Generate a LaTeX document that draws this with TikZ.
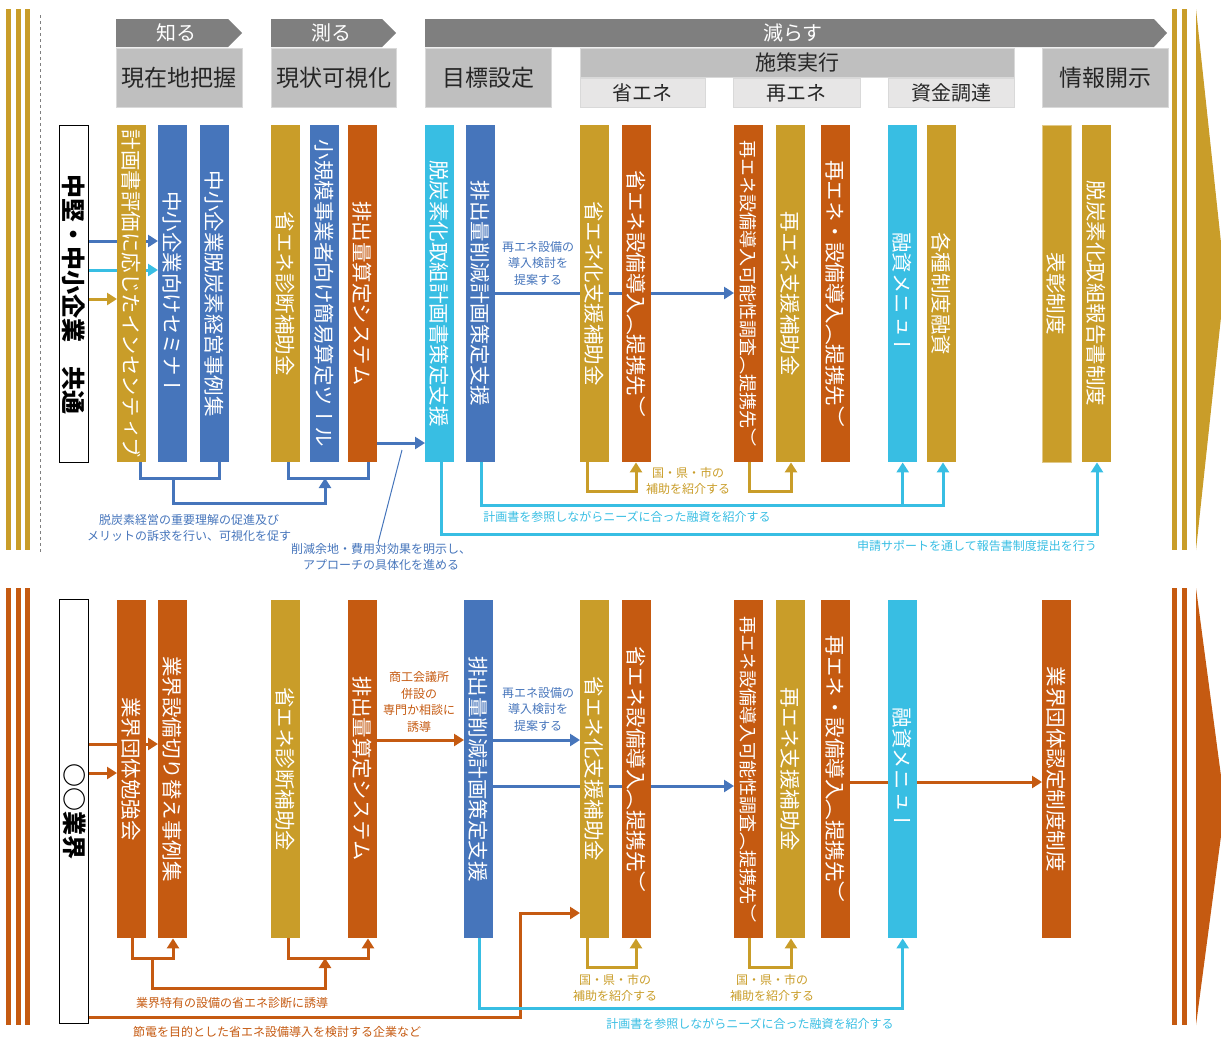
\documentclass[tikz,border=0pt]{standalone}
\usepackage{fontspec}
\setmainfont{Noto Sans CJK JP}
\newfontfamily\tate[Vertical=RotatedGlyphs]{Noto Sans CJK JP}
\usepackage{tikz}
\usetikzlibrary{arrows.meta,backgrounds}
\definecolor{gld}{HTML}{C99D29}
\definecolor{blu}{HTML}{4675BB}
\definecolor{cyn}{HTML}{38BEE3}
\definecolor{org}{HTML}{C55A11}
\definecolor{hdk}{HTML}{7F7F7F}
\definecolor{hmid}{HTML}{BFBFBF}
\definecolor{hlite}{HTML}{E7E6E6}
\definecolor{hline}{HTML}{D9D9D9}
\definecolor{hink}{HTML}{262626}
\tikzset{
  barnode/.style={rectangle, fill=#1, minimum width=29pt, minimum height=337pt,
                  inner sep=0pt, anchor=north west},
  vt/.style={rotate=-90, inner sep=0pt, text=white, font=\tate\fontsize{20.5}{20.5}\selectfont},
  vts/.style={vt, font=\tate\fontsize{18}{18}\selectfont},
  grp/.style={rectangle, draw=black, line width=1.3pt, fill=white, minimum width=29pt,
              inner sep=0pt, anchor=north west},
  grptxt/.style={vt, text=black, font=\tate\fontsize{24}{24}\selectfont\bfseries},
  hd/.style={text=white, inner sep=0pt, font=\fontsize{20}{20}\selectfont},
  hbox/.style={rectangle, fill=hmid, draw=hline, line width=0.8pt, anchor=north west,
               inner sep=0pt, text=hink, font=\fontsize{23}{23}\selectfont},
  subbox/.style={hbox, fill=hlite, minimum height=29pt, font=\fontsize{20}{20}\selectfont},
  ln/.style={line width=3pt, draw=#1},
  fl/.style={ln=#1, -{Triangle[length=10pt,width=12pt]}},
  lbl/.style={font=\fontsize{12}{16.5}\selectfont, align=center, inner sep=0pt, text=#1},
}
\begin{document}
\begin{tikzpicture}[x=1pt, y=-1pt]
  \useasboundingbox (0,0) rectangle (1221,1039);

  % side stripes
  \foreach \sx in {6,16,25,1172,1182} {
    \fill[gld] (\sx,9) rectangle ++(5,541);
    \fill[org] (\sx,588) rectangle ++(5,437);
  }
  \fill[gld] (1196,9) -- (1225,280) -- (1196,550) -- cycle;
  \fill[org] (1196,588) -- (1225,806) -- (1196,1025) -- cycle;
  \draw[hdk, dashed, line width=1pt] (40,15) -- (40,553);

  % phase headers
  \fill[hdk] (116,19) -- (228,19) -- (242,33) -- (228,47) -- (116,47) -- cycle;
  \node[hd] (know) at (176,33) {知る};
  \fill[hdk] (271,19) -- (382,19) -- (396,33) -- (382,47) -- (271,47) -- cycle;
  \node[hd] (meas) at (331,33) {測る};
  \fill[hdk] (425,19) -- (1154,19) -- (1167,33) -- (1154,47) -- (425,47) -- cycle;
  \node[hd] (cut) at (793,33) {減らす};

  \node[hbox, minimum width=126pt, minimum height=59pt] (now) at (116,48) {現在地把握};
  \node[hbox, minimum width=125pt, minimum height=59pt] (vis) at (271,48) {現状可視化};
  \node[hbox, minimum width=126pt, minimum height=59pt] (goal) at (425,48) {目標設定};
  \node[hbox, minimum width=434pt, minimum height=29pt, font=\fontsize{21}{21}\selectfont] (act) at (580,48) {施策実行};
  \node[subbox, minimum width=125pt] (save) at (580,78) {省エネ};
  \node[subbox, minimum width=127pt] (renew) at (733,78) {再エネ};
  \node[subbox, minimum width=126pt] (fund) at (888,78) {資金調達};
  \node[hbox, minimum width=126pt, minimum height=59pt] (disc) at (1042,48) {情報開示};

  % upper row
  \node[grp, minimum height=337pt, label={[grptxt]center:中堅・中小企業　共通}] (g1) at (59,125) {};
  \node[barnode=gld, label={[vt]center:計画書評価に応じたインセンティブ}] (t1) at (117,125) {};
  \node[barnode=blu, label={[vt]center:中小企業向けセミナー}] (t2) at (158,125) {};
  \node[barnode=blu, label={[vt]center:中小企業脱炭素経営事例集}] (t3) at (200,125) {};
  \node[barnode=gld, label={[vt]center:省エネ診断補助金}] (t4) at (271,125) {};
  \node[barnode=blu, label={[vt]center:小規模事業者向け簡易算定ツール}] (t5) at (310,125) {};
  \node[barnode=org, label={[vt]center:排出量算定システム}] (t6) at (348,125) {};
  \node[barnode=cyn, label={[vt]center:脱炭素化取組計画書策定支援}] (t7) at (425,125) {};
  \node[barnode=blu, label={[vt]center:排出量削減計画策定支援}] (t8) at (466,125) {};
  \node[barnode=gld, label={[vt]center:省エネ化支援補助金}] (t9) at (580,125) {};
  \node[barnode=org, label={[vt]center:省エネ設備導入（提携先）}] (t10) at (622,125) {};
  \node[barnode=org, label={[vts]center:再エネ設備導入可能性調査（提携先）}] (t11) at (734,125) {};
  \node[barnode=gld, label={[vt]center:再エネ支援補助金}] (t12) at (776,125) {};
  \node[barnode=org, label={[vt]center:再エネ・設備導入（提携先）}] (t13) at (821,125) {};
  \node[barnode=cyn, label={[vt]center:融資メニュー}] (t14) at (888,125) {};
  \node[barnode=gld, label={[vt]center:各種制度融資}] (t15) at (927,125) {};
  \node[barnode=gld, draw=gld!55!white, label={[vt]center:表彰制度}] (t16) at (1042,125) {};
  \node[barnode=gld, label={[vt]center:脱炭素化取組報告書制度}] (t17) at (1082,125) {};

  \node[lbl=blu] (n1) at (189,528) {脱炭素経営の重要理解の促進及び\\メリットの訴求を行い、可視化を促す};
  \node[lbl=blu] (n2) at (381,557) {削減余地・費用対効果を明示し、\\アプローチの具体化を進める};
  \node[lbl=blu] (n3) at (538,263) {再エネ設備の\\導入検討を\\提案する};
  \node[lbl=gld] (n4) at (688,481) {国・県・市の\\補助を紹介する};
  \node[lbl=cyn] (n5) at (627,517) {計画書を参照しながらニーズに合った融資を紹介する};
  \node[lbl=cyn] (n6) at (977,546) {申請サポートを通して報告書制度提出を行う};

  % lower row
  \node[grp, minimum height=424pt, label={[grptxt]center:○○業界}] (g2) at (59,599) {};
  \node[barnode=org, minimum height=338pt, label={[vt]center:業界団体勉強会}] (b1) at (117,600) {};
  \node[barnode=org, minimum height=338pt, label={[vt]center:業界設備切り替え事例集}] (b2) at (158,600) {};
  \node[barnode=gld, minimum height=338pt, label={[vt]center:省エネ診断補助金}] (b3) at (271,600) {};
  \node[barnode=org, minimum height=338pt, label={[vt]center:排出量算定システム}] (b4) at (348,600) {};
  \node[barnode=blu, minimum height=338pt, label={[vt]center:排出量削減計画策定支援}] (b5) at (464,600) {};
  \node[barnode=gld, minimum height=338pt, label={[vt]center:省エネ化支援補助金}] (b6) at (580,600) {};
  \node[barnode=org, minimum height=338pt, label={[vt]center:省エネ設備導入（提携先）}] (b7) at (622,600) {};
  \node[barnode=org, minimum height=338pt, label={[vts]center:再エネ設備導入可能性調査（提携先）}] (b8) at (734,600) {};
  \node[barnode=gld, minimum height=338pt, label={[vt]center:再エネ支援補助金}] (b9) at (776,600) {};
  \node[barnode=org, minimum height=338pt, label={[vt]center:再エネ・設備導入（提携先）}] (b10) at (821,600) {};
  \node[barnode=cyn, minimum height=338pt, label={[vt]center:融資メニュー}] (b11) at (888,600) {};
  \node[barnode=org, minimum height=338pt, label={[vt]center:業界団体認定制度制度}] (b12) at (1042,600) {};

  \node[lbl=org] (m1) at (232,1003) {業界特有の設備の省エネ診断に誘導};
  \node[lbl=org] (m2) at (277,1032) {節電を目的とした省エネ設備導入を検討する企業など};
  \node[lbl=org] (m3) at (419,702) {商工会議所\\併設の\\専門か相談に\\誘導};
  \node[lbl=blu] (m4) at (538,709) {再エネ設備の\\導入検討を\\提案する};
  \node[lbl=gld] (m5) at (615,988) {国・県・市の\\補助を紹介する};
  \node[lbl=gld] (m6) at (772,988) {国・県・市の\\補助を紹介する};
  \node[lbl=cyn] (m7) at (750,1024) {計画書を参照しながらニーズに合った融資を紹介する};

  \begin{scope}[on background layer]
    % upper connectors
    \draw[fl=blu] (g1.east |- 0,241) -- (t2.west |- 0,241);
    \draw[fl=cyn] (g1.east |- 0,270) -- (t2.west |- 0,270);
    \draw[fl=gld] (g1.east |- 0,299) -- (t1.west |- 0,299);
    \draw[ln=blu] ([xshift=-6pt]t1.south east) -- ++(0,16) -| ([xshift=-10pt]t3.south east);
    \draw[ln=blu] ([xshift=-12pt]t4.south east) -- ++(0,16) -| ([xshift=-9pt]t6.south east);
    \coordinate (k1) at (173,478);
    \coordinate (k2) at (325,478);
    \draw[fl=blu] (k1) -- ++(0,25) -| (k2);
    \draw[fl=blu] (t6.east |- 0,443) -- (t7.west |- 0,443);
    \draw[blu, line width=1pt] (402,450) -- (n2.north -| 378,0);
    \draw[fl=blu] (t8.east |- 0,293) -- (t11.west |- 0,293);
    \draw[fl=gld] ([xshift=7pt]t9.south west) -- ++(0,29) -| ([xshift=14pt]t10.south west);
    \draw[fl=gld] ([xshift=15pt]t11.south west) -- ++(0,29) -| ([xshift=15pt]t12.south west);
    \draw[fl=cyn] ([xshift=15pt]t8.south west) -- ++(0,43) -| ([xshift=16pt]t15.south west);
    \draw[fl=cyn] (t14.south |- 0,505) -- (t14.south);
    \draw[fl=cyn] ([xshift=16pt]t7.south west) -- ++(0,72) -| ([xshift=15pt]t17.south west);
    % lower connectors
    \draw[fl=org] (g2.east |- 0,744) -- (b2.west |- 0,744);
    \draw[fl=org] (g2.east |- 0,773) -- (b1.west |- 0,773);
    \draw[fl=org] ([xshift=15pt]b1.south west) -- ++(0,20) -| ([xshift=15pt]b2.south west);
    \coordinate (k3) at (152,958);
    \coordinate (k4) at (325,958);
    \draw[fl=org] (k3) -- ++(0,30) -| (k4);
    \draw[fl=org] ([xshift=17pt]b3.south west) -- ++(0,20) -| ([xshift=20pt]b4.south west);
    \draw[fl=org] (g2.east |- 0,1017) -| (520,913) -- (b6.west |- 0,913);
    \draw[fl=org] (b4.east |- 0,740) -- (b5.west |- 0,740);
    \draw[fl=blu] (b5.east |- 0,740) -- (b6.west |- 0,740);
    \draw[fl=blu] (b5.east |- 0,786) -- (b8.west |- 0,786);
    \draw[fl=gld] ([xshift=7pt]b6.south west) -- ++(0,29) -| ([xshift=14pt]b7.south west);
    \draw[fl=gld] ([xshift=15pt]b8.south west) -- ++(0,29) -| ([xshift=15pt]b9.south west);
    \draw[fl=cyn] ([xshift=15pt]b5.south west) -- ++(0,70) -| (b11.south);
    \draw[fl=org] (b10.east |- 0,782) -- (b12.west |- 0,782);
  \end{scope}
\end{tikzpicture}
\end{document}
